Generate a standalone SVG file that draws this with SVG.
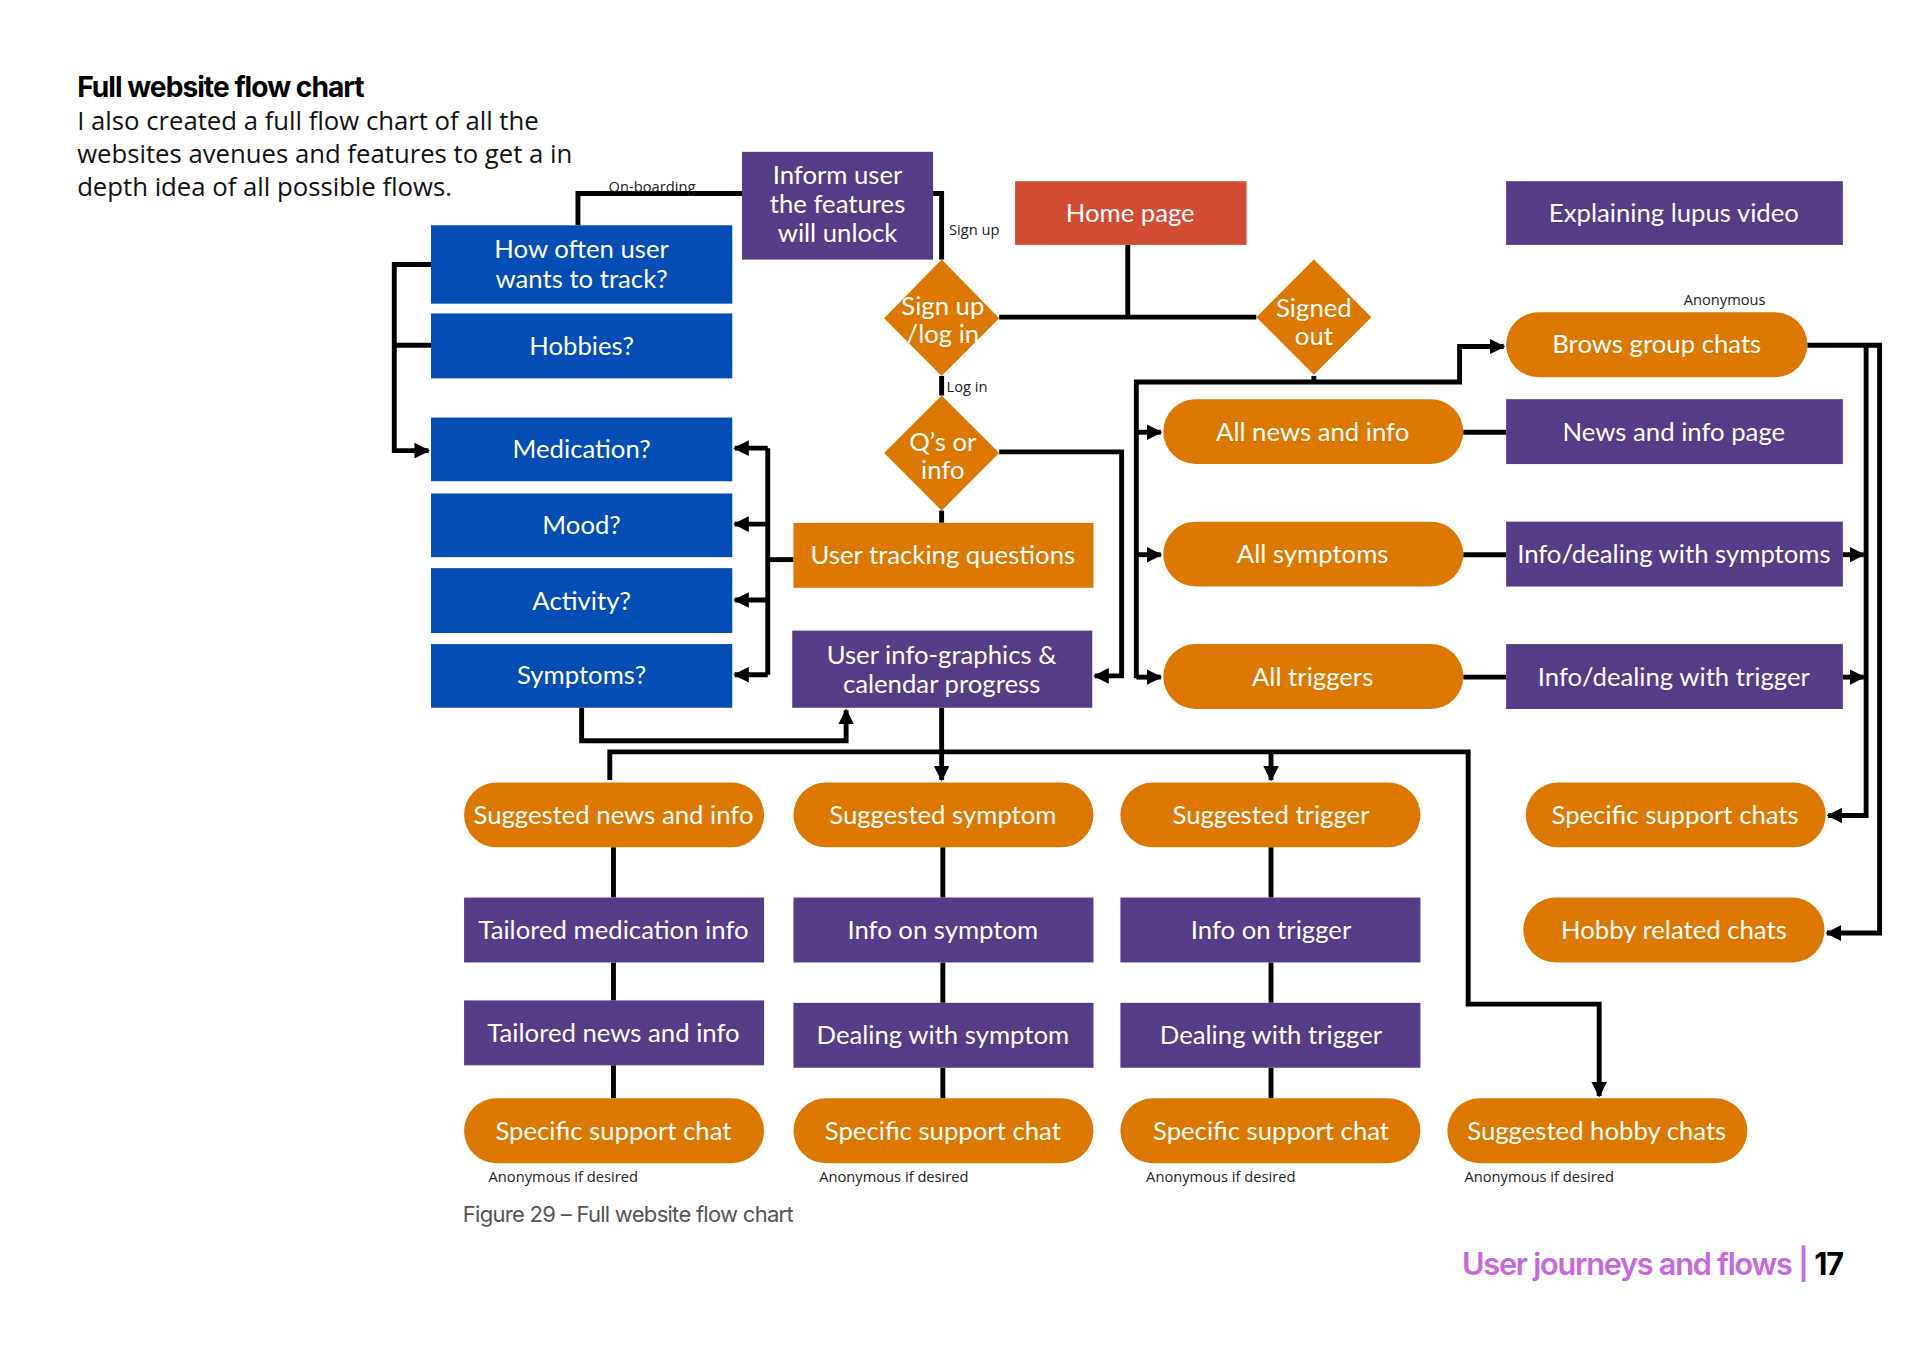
<svg xmlns="http://www.w3.org/2000/svg" width="1920" height="1358" viewBox="0 0 1920 1358">
<defs>
<marker id="ar" viewBox="0 0 10 10" refX="9" refY="5" markerWidth="3.2" markerHeight="3.2" orient="auto" markerUnits="strokeWidth"><path d="M0,0L10,5L0,10z" fill="#000"/></marker>
<style>
.n text{font-family:Lato,"Open Sans",sans-serif;font-size:21px;fill:#fff;text-anchor:middle}
.b{fill:#034DB5}.p{fill:#563B86}.o{fill:#DC7800}.r{fill:#D24C33}
.c path{fill:none;stroke:#000;stroke-width:4}
.a{marker-end:url(#ar)}
.s{font-family:"Open Sans",sans-serif;font-size:12px;fill:#222}
</style>
</defs>
<rect width="1920" height="1358" fill="#fff"/>
<g transform="scale(1.22449)">
<text x="63" y="79" font-family="Inter,sans-serif" font-weight="700" font-size="23" letter-spacing="-0.8" fill="#000">Full website flow chart</text>
<g font-family="'Open Sans',sans-serif" font-size="21" fill="#111">
<text x="63" y="106">I also created a full flow chart of all the</text>
<text x="63" y="133">websites avenues and features to get a in</text>
<text x="63" y="160">depth idea of all possible flows.</text>
</g>
<g class="c">
<path d="M472,184V158H606"/>
<path d="M762,158H769V212"/>
<path d="M352,216H322V282H352M322,282V368H350" class="a"/>
<path d="M816,259H1026M921,200V259"/>
<path d="M769,307V323M769,417V427"/>
<path d="M648,457H627"/>
<path d="M627,366V551"/>
<path d="M627,366H600" class="a"/><path d="M627,428H600" class="a"/><path d="M627,490H600" class="a"/><path d="M627,551H600" class="a"/>
<path d="M816,369H916V552H894" class="a"/>
<path d="M475,578V605H691V580" class="a"/>
<path d="M769,578V637" class="a"/>
<path d="M498,637V614H1199V820H1306V895" class="a"/>
<path d="M1038,614V637" class="a"/>
<path d="M1073,307V312"/>
<path d="M928,554V312H1192V283H1228" class="a"/>
<path d="M928,353H948" class="a"/><path d="M928,453H948" class="a"/><path d="M928,553H948" class="a"/>
<path d="M1195,353H1230M1195,453H1230M1195,553H1230"/>
<path d="M1505,453H1522" class="a"/><path d="M1505,553H1522" class="a"/>
<path d="M1476,282H1535V762H1492" class="a"/>
<path d="M1524,282V666H1493" class="a"/>
<path d="M501,692V733M501,786V817M501,870V897"/>
<path d="M770,692V733M770,786V819M770,872V897"/>
<path d="M1038,692V733M1038,786V819M1038,872V897"/>
</g>
<text class="s" x="497" y="157">On-boarding</text>
<text class="s" x="775" y="192">Sign up</text>
<text class="s" x="773" y="320">Log in</text>
<text class="s" x="1375" y="249">Anonymous</text>
<g class="s"><text x="399" y="965">Anonymous if desired</text><text x="669" y="965">Anonymous if desired</text><text x="936" y="965">Anonymous if desired</text><text x="1196" y="965">Anonymous if desired</text></g>

<g class="n" id="inform"><rect class="p" x="606" y="124" width="156" height="88"/><text x="684" y="150">Inform user</text><text x="684" y="174">the features</text><text x="684" y="198">will unlock</text></g>
<g class="n" id="howoften"><rect class="b" x="352" y="184" width="246" height="64"/><text x="475" y="211">How often user</text><text x="475" y="235">wants to track?</text></g>
<g class="n" id="hobbies"><rect class="b" x="352" y="256" width="246" height="53"/><text x="475" y="290">Hobbies?</text></g>
<g class="n" id="medication"><rect class="b" x="352" y="341" width="246" height="52"/><text x="475" y="374">Medication?</text></g>
<g class="n" id="mood"><rect class="b" x="352" y="403" width="246" height="52"/><text x="475" y="436">Mood?</text></g>
<g class="n" id="activity"><rect class="b" x="352" y="464" width="246" height="53"/><text x="475" y="498">Activity?</text></g>
<g class="n" id="symptoms"><rect class="b" x="352" y="526" width="246" height="52"/><text x="475" y="559">Symptoms?</text></g>
<g class="n" id="home"><rect class="r" x="829" y="148" width="189" height="52"/><text x="923" y="181">Home page</text></g>
<g class="n" id="video"><rect class="p" x="1230" y="148" width="275" height="52"/><text x="1367" y="181">Explaining lupus video</text></g>
<g class="n" id="signup"><path class="o" d="M769,212L816,260L769,307L722,260z"/><text x="770" y="257">Sign up</text><text x="770" y="280">/log in</text></g>
<g class="n" id="signedout"><path class="o" d="M1073,212L1120,259L1073,306L1026,259z"/><text x="1073" y="259">Signed</text><text x="1073" y="282">out</text></g>
<g class="n" id="qs"><path class="o" d="M769,323L816,370L769,417L722,370z"/><text x="770" y="368">Q’s or</text><text x="770" y="391">info</text></g>
<g class="n" id="tracking"><rect class="o" x="648" y="427" width="245" height="53"/><text x="770" y="461">User tracking questions</text></g>
<g class="n" id="infographics"><rect class="p" x="647" y="515" width="245" height="63"/><text x="769" y="542">User info-graphics &amp;</text><text x="769" y="566">calendar progress</text></g>
<g class="n" id="brows"><rect class="o" x="1230" y="255" width="246" height="53" rx="26.5"/><text x="1353" y="288">Brows group chats</text></g>
<g class="n" id="allnews"><rect class="o" x="950" y="326" width="245" height="53" rx="26.5"/><text x="1072" y="360">All news and info</text></g>
<g class="n" id="newspage"><rect class="p" x="1230" y="326" width="275" height="53"/><text x="1367" y="360">News and info page</text></g>
<g class="n" id="allsym"><rect class="o" x="950" y="426" width="245" height="53" rx="26.5"/><text x="1072" y="460">All symptoms</text></g>
<g class="n" id="infosym"><rect class="p" x="1230" y="426" width="275" height="53"/><text x="1367" y="460">Info/dealing with symptoms</text></g>
<g class="n" id="alltrig"><rect class="o" x="950" y="526" width="245" height="53" rx="26.5"/><text x="1072" y="560">All triggers</text></g>
<g class="n" id="infotrig"><rect class="p" x="1230" y="526" width="275" height="53"/><text x="1367" y="560">Info/dealing with trigger</text></g>
<g class="n" id="sugnews"><rect class="o" x="379" y="639" width="245" height="53" rx="26.5"/><text x="501" y="673">Suggested news and info</text></g>
<g class="n" id="sugsym"><rect class="o" x="648" y="639" width="245" height="53" rx="26.5"/><text x="770" y="673">Suggested symptom</text></g>
<g class="n" id="sugtrig"><rect class="o" x="915" y="639" width="245" height="53" rx="26.5"/><text x="1038" y="673">Suggested trigger</text></g>
<g class="n" id="specchats"><rect class="o" x="1246" y="639" width="245" height="53" rx="26.5"/><text x="1368" y="673">Specific support chats</text></g>
<g class="n" id="tailmed"><rect class="p" x="379" y="733" width="245" height="53"/><text x="501" y="767">Tailored medication info</text></g>
<g class="n" id="infosymp"><rect class="p" x="648" y="733" width="245" height="53"/><text x="770" y="767">Info on symptom</text></g>
<g class="n" id="infotrg"><rect class="p" x="915" y="733" width="245" height="53"/><text x="1038" y="767">Info on trigger</text></g>
<g class="n" id="hobbychats"><rect class="o" x="1244" y="733" width="246" height="53" rx="26.5"/><text x="1367" y="767">Hobby related chats</text></g>
<g class="n" id="tailnews"><rect class="p" x="379" y="817" width="245" height="53"/><text x="501" y="851">Tailored news and info</text></g>
<g class="n" id="dealsym"><rect class="p" x="648" y="819" width="245" height="53"/><text x="770" y="853">Dealing with symptom</text></g>
<g class="n" id="dealtrig"><rect class="p" x="915" y="819" width="245" height="53"/><text x="1038" y="853">Dealing with trigger</text></g>
<g class="n" id="ssc1"><rect class="o" x="379" y="897" width="245" height="53" rx="26.5"/><text x="501" y="931">Specific support chat</text></g>
<g class="n" id="ssc2"><rect class="o" x="648" y="897" width="245" height="53" rx="26.5"/><text x="770" y="931">Specific support chat</text></g>
<g class="n" id="ssc3"><rect class="o" x="915" y="897" width="245" height="53" rx="26.5"/><text x="1038" y="931">Specific support chat</text></g>
<g class="n" id="sughobby"><rect class="o" x="1182" y="897" width="245" height="53" rx="26.5"/><text x="1304" y="931">Suggested hobby chats</text></g>

<text x="378" y="998" font-family="Inter,sans-serif" font-size="18" letter-spacing="-0.6" fill="#555">Figure 29 – Full website flow chart</text>
<text x="1505" y="1041" text-anchor="end" font-family="Inter,sans-serif" font-weight="600" font-size="25" letter-spacing="-1"><tspan fill="#C767E0">User journeys and flows | </tspan><tspan fill="#000" font-weight="700">17</tspan></text>
</g>
</svg>
